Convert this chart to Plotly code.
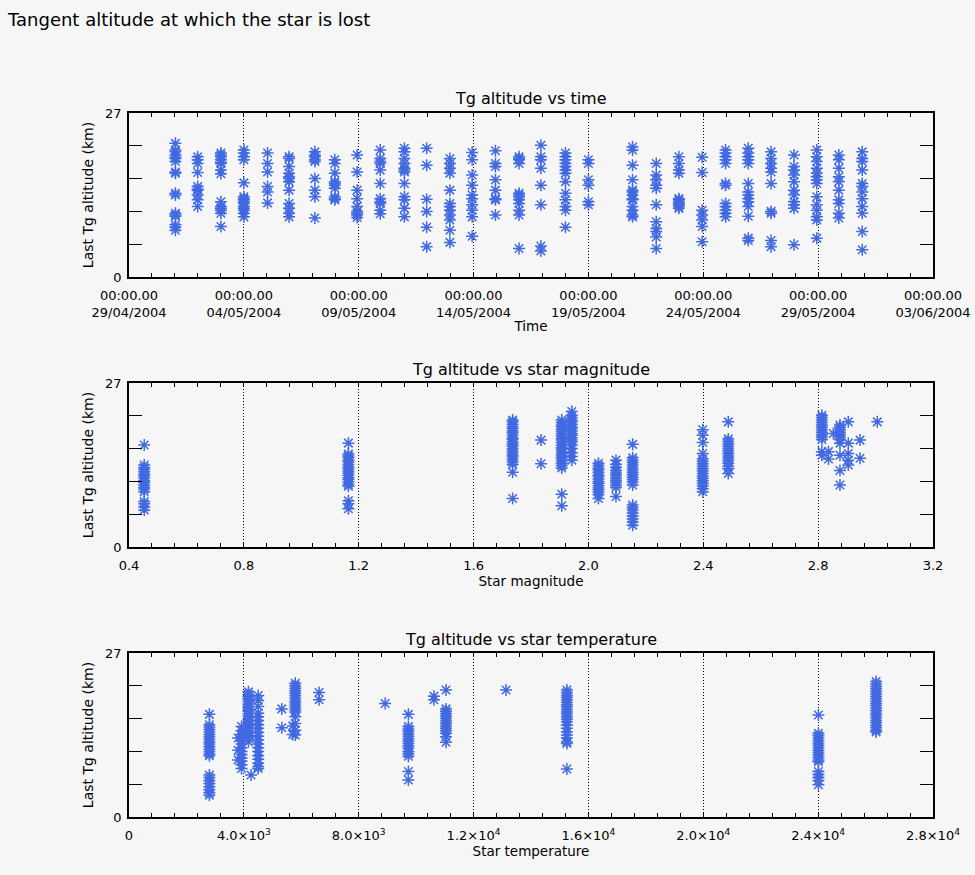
import plotly.graph_objects as go

BLUE = "#4169E1"
FONT = "DejaVu Sans"
BG = "#f6f6f6"

# ---------------- Tg altitude vs time ----------------
obs_times = [
    "2004-05-01 00:30", "2004-05-01 23:45", "2004-05-03 00:00", "2004-05-04 00:00",
    "2004-05-05 00:45", "2004-05-05 23:15", "2004-05-07 02:10", "2004-05-07 23:00",
    "2004-05-08 22:20", "2004-05-09 22:30", "2004-05-10 23:45", "2004-05-11 23:00",
    "2004-05-12 23:15", "2004-05-13 22:30", "2004-05-14 22:50", "2004-05-15 23:30",
    "2004-05-16 22:20", "2004-05-18 00:00", "2004-05-19 00:00", "2004-05-20 22:05",
    "2004-05-21 22:50", "2004-05-22 22:30", "2004-05-23 22:50", "2004-05-24 23:15",
    "2004-05-25 23:00", "2004-05-26 22:50", "2004-05-27 22:50", "2004-05-28 22:35",
    "2004-05-29 21:35", "2004-05-30 22:05",
]
obs_alts = [
    [22.0, 20.9, 20.6, 20.1, 19.7, 19.5, 19.0, 17.3, 17.1, 13.8, 13.5, 10.5, 10.2, 10.0, 8.6, 8.2, 7.7],
    [19.8, 19.3, 18.7, 17.2, 14.9, 14.5, 14.3, 13.5, 12.7, 11.6],
    [20.4, 20.1, 19.8, 19.3, 18.9, 18.7, 17.6, 17.0, 12.4, 11.6, 11.3, 11.0, 10.5, 8.3],
    [20.9, 20.4, 19.8, 19.3, 15.5, 13.2, 12.9, 12.7, 12.4, 12.1, 11.6, 11.3, 11.0, 10.5, 9.9],
    [20.4, 18.7, 17.3, 14.9, 14.0, 12.2],
    [19.8, 19.5, 18.2, 17.1, 16.5, 16.2, 15.7, 14.3, 12.1, 11.3, 10.5, 9.9],
    [20.6, 20.1, 19.8, 19.3, 19.0, 16.2, 14.3, 13.2, 9.7],
    [19.3, 18.7, 17.1, 15.7, 15.4, 15.1, 14.6, 13.2, 12.9, 12.7],
    [20.1, 17.3, 14.3, 12.9, 11.6, 10.8, 10.5, 10.2, 9.8],
    [20.9, 19.5, 19.0, 18.7, 17.6, 15.4, 12.9, 12.4, 12.1, 11.0, 10.4],
    [21.2, 20.6, 19.5, 18.7, 17.9, 17.6, 17.3, 15.4, 13.2, 12.7, 11.3, 9.9],
    [21.2, 18.4, 12.8, 10.8, 8.2, 5.0],
    [19.5, 18.7, 17.9, 17.1, 14.3, 12.1, 11.6, 11.0, 10.2, 9.4, 7.7, 5.7],
    [20.5, 19.3, 16.8, 15.1, 13.5, 12.9, 11.9, 11.0, 9.9, 6.7],
    [20.8, 18.7, 18.2, 16.0, 14.3, 12.9, 12.7, 10.2],
    [19.8, 19.5, 19.3, 18.7, 13.8, 13.5, 13.2, 12.7, 12.1, 11.0, 10.2, 4.7],
    [21.7, 19.8, 19.3, 17.9, 15.1, 11.9, 5.1, 4.3],
    [20.4, 19.8, 19.3, 18.7, 18.2, 17.6, 17.1, 15.7, 13.8, 12.7, 11.6, 11.0, 8.2],
    [19.3, 18.7, 16.0, 15.1, 12.4, 11.9],
    [21.4, 20.9, 18.4, 16.0, 14.3, 14.0, 13.5, 12.9, 12.7, 11.6, 11.0, 10.2, 9.9],
    [18.7, 16.8, 16.0, 15.1, 14.6, 11.9, 9.1, 8.0, 7.5, 6.6, 4.7],
    [19.8, 18.7, 17.6, 17.1, 12.9, 12.7, 12.4, 12.1, 11.9, 11.6, 11.3],
    [19.7, 17.2, 11.0, 10.2, 9.4, 8.3, 5.8],
    [20.9, 20.4, 19.8, 19.3, 18.7, 15.4, 15.1, 12.1, 11.6, 11.0, 10.5, 9.9],
    [21.2, 20.4, 19.8, 19.3, 18.7, 15.4, 14.0, 13.5, 12.9, 12.4, 11.6, 10.0, 6.4, 6.0],
    [20.6, 19.5, 18.7, 17.9, 17.3, 15.4, 10.8, 10.5, 6.0, 5.0],
    [20.1, 18.2, 17.6, 16.8, 15.7, 14.3, 13.5, 12.4, 11.9, 11.3, 5.3],
    [20.9, 19.8, 19.0, 17.9, 17.1, 16.5, 16.0, 15.4, 13.2, 11.9, 11.0, 9.9, 9.4, 6.4],
    [20.1, 19.3, 17.9, 16.5, 15.7, 14.3, 12.7, 12.1, 10.5, 9.7],
    [20.6, 19.5, 19.0, 17.6, 15.4, 14.9, 14.0, 12.9, 11.6, 10.5, 7.5, 4.5],
]
time_tickvals = ["2004-04-29", "2004-05-04", "2004-05-09", "2004-05-14",
                 "2004-05-19", "2004-05-24", "2004-05-29", "2004-06-03"]
time_ticktext = ["00:00.00<br>29/04/2004", "00:00.00<br>04/05/2004", "00:00.00<br>09/05/2004",
                 "00:00.00<br>14/05/2004", "00:00.00<br>19/05/2004", "00:00.00<br>24/05/2004",
                 "00:00.00<br>29/05/2004", "00:00.00<br>03/06/2004"]

# ---------------- Tg altitude vs star magnitude ----------------
star_mags = [0.453, 1.164, 1.736, 1.835, 1.907, 1.942, 2.035, 2.096, 2.154,
             2.398, 2.487, 2.813, 2.836, 2.853, 2.876, 2.905, 2.946, 3.006]
mag_alts = [
    [16.8, 13.5, 13.1, 12.8, 12.4, 12.0, 11.7, 11.3, 10.9, 10.6, 10.2, 9.8, 9.5, 9.1, 7.5, 7.1, 6.6, 6.1],
    [17.1, 15.3, 15.0, 14.7, 14.3, 14.0, 13.6, 13.2, 12.9, 12.5, 12.2, 11.8, 11.4, 11.1, 10.7, 10.3, 10.0, 7.6, 7.1, 6.3],
    [20.9, 20.6, 20.2, 19.8, 19.5, 19.1, 18.8, 18.4, 18.0, 17.7, 17.3, 16.9, 16.6, 16.2, 15.9, 15.5, 15.1, 14.8, 14.4, 14.0, 13.6, 12.3, 8.0],
    [17.6, 13.7],
    [20.9, 20.5, 20.1, 19.8, 19.4, 19.0, 18.7, 18.3, 17.9, 17.6, 17.2, 16.8, 16.4, 16.1, 15.7, 15.3, 15.0, 14.6, 14.2, 13.8, 13.4, 13.0, 8.7, 6.8],
    [22.3, 21.7, 21.3, 20.9, 20.6, 20.2, 19.8, 19.5, 19.1, 18.7, 18.4, 18.0, 17.6, 17.3, 16.8, 16.2, 15.5, 14.9, 14.3],
    [13.8, 13.4, 13.0, 12.7, 12.3, 11.9, 11.6, 11.2, 10.8, 10.5, 10.1, 9.7, 9.4, 9.0, 8.6, 8.0],
    [14.3, 13.6, 13.1, 12.6, 12.2, 11.8, 11.4, 11.0, 10.6, 10.2, 9.8, 8.3],
    [16.9, 14.7, 14.3, 13.9, 13.5, 13.1, 12.7, 12.3, 11.9, 11.5, 11.1, 10.7, 10.2, 6.9, 6.5, 6.1, 5.6, 5.1, 4.6, 4.1, 3.6],
    [19.3, 18.4, 17.2, 15.4, 14.5, 14.1, 13.7, 13.3, 12.9, 12.5, 12.1, 11.7, 11.3, 10.9, 10.5, 10.1, 9.6, 9.1],
    [20.6, 17.8, 17.4, 17.0, 16.6, 16.2, 15.8, 15.4, 15.0, 14.6, 14.2, 13.8, 13.3, 12.9, 12.1],
    [21.7, 21.3, 20.9, 20.5, 20.1, 19.7, 19.3, 18.9, 18.5, 18.1, 17.7, 15.7, 15.1],
    [15.7, 14.5],
    [18.7],
    [20.1, 19.7, 19.3, 18.9, 18.5, 18.1, 17.7, 17.1, 15.1, 12.6, 10.2],
    [20.6, 17.1, 15.4, 14.3, 13.5],
    [17.6, 14.6],
    [20.6],
]

# ---------------- Tg altitude vs star temperature ----------------
star_temps = [2800, 3800, 3920, 4160, 4250, 4500, 5320, 5700, 5790, 6620,
              8920, 9730, 10620, 11040, 13130, 15250, 24010, 26020]
temp_alts = [
    [16.9, 15.2, 14.8, 14.4, 14.0, 13.6, 13.2, 12.8, 12.4, 12.0, 11.6, 11.2, 10.8, 10.4, 10.1, 6.9, 6.5, 6.0, 5.5, 5.0, 4.5, 4.0, 3.6],
    [13.0, 11.0, 9.4],
    [14.9, 14.2, 13.6, 13.1, 12.5, 12.0, 11.4, 10.8, 10.3, 9.7, 9.2, 8.6, 8.0],
    [20.6, 20.2, 19.8, 19.4, 19.0, 18.6, 18.2, 17.8, 17.4, 17.0, 16.6, 16.2, 15.8, 15.4, 15.0, 14.6, 14.2, 13.8, 13.4, 13.0, 12.4],
    [6.9],
    [20.0, 19.2, 18.2, 17.1, 16.5, 15.9, 15.2, 14.6, 13.9, 13.3, 12.7, 12.0, 11.4, 10.8, 10.1, 9.5, 8.9, 8.3, 8.0],
    [17.8, 14.7],
    [15.0, 13.6],
    [22.0, 21.6, 21.2, 20.8, 20.4, 20.0, 19.6, 19.2, 18.8, 18.4, 18.0, 17.6, 17.3, 16.5, 15.4, 14.3, 13.5],
    [20.5, 19.3],
    [18.7],
    [16.9, 14.9, 14.5, 14.1, 13.7, 13.3, 12.9, 12.5, 12.1, 11.7, 11.3, 10.8, 10.4, 10.0, 7.5, 6.1],
    [19.9, 19.3],
    [20.9, 17.8, 17.4, 17.0, 16.6, 16.2, 15.8, 15.4, 15.0, 14.6, 14.2, 13.8, 13.2, 12.3],
    [20.9],
    [20.9, 20.5, 20.1, 19.7, 19.3, 18.9, 18.5, 18.1, 17.7, 17.3, 16.9, 16.5, 16.1, 15.7, 15.1, 14.6, 14.0, 13.5, 13.0, 12.4, 12.1, 7.9],
    [16.8, 13.8, 13.4, 13.0, 12.6, 12.2, 11.8, 11.4, 11.0, 10.6, 10.2, 9.8, 9.4, 9.1, 7.5, 7.0, 6.5, 6.0, 5.3],
    [22.3, 21.9, 21.5, 21.1, 20.7, 20.3, 19.9, 19.5, 19.1, 18.7, 18.3, 17.9, 17.5, 17.1, 16.7, 16.3, 15.9, 15.5, 15.1, 14.7, 14.3, 14.0],
]
temp_tickvals = [0, 4000, 8000, 12000, 16000, 20000, 24000, 28000]
temp_ticktext = ["0", "4.0×10<sup>3</sup>", "8.0×10<sup>3</sup>", "1.2×10<sup>4</sup>",
                 "1.6×10<sup>4</sup>", "2.0×10<sup>4</sup>", "2.4×10<sup>4</sup>", "2.8×10<sup>4</sup>"]

# altitude axis: labelled ends, unlabelled interior ticks every 5.4 km
alt_tickvals = [0, 27]
alt_ticktext = ["0", "27"]
alt_step = 5.4


def flatten(xs, groups):
    px, py = [], []
    for x, g in zip(xs, groups):
        px.extend([x] * len(g))
        py.extend(g)
    return px, py


W, H = 975, 875
X0, X1 = 129, 933
panels = [(113, 277), (383, 547), (653, 817)]  # (top, bottom) in pixels


def ydom(top, bottom):
    return [1 - bottom / H, 1 - top / H]


marker = dict(symbol="asterisk-open", size=10, color=BLUE, line=dict(color=BLUE, width=1.5))

fig = go.Figure()
for i, (xs, groups) in enumerate([(obs_times, obs_alts), (star_mags, mag_alts), (star_temps, temp_alts)]):
    px, py = flatten(xs, groups)
    suffix = "" if i == 0 else str(i + 1)
    fig.add_trace(go.Scatter(x=px, y=py, mode="markers", marker=marker,
                             xaxis="x" + suffix, yaxis="y" + suffix, showlegend=False))

common_x = dict(
    automargin=False,
    showline=True, linecolor="black", linewidth=1.5, mirror="allticks",
    ticks="inside", ticklen=4, tickcolor="black", tickwidth=1,
    showgrid=True, gridcolor="black", gridwidth=1, griddash="1px,2px",
    zeroline=False, tickfont=dict(family=FONT, size=13, color="black"),
    ticklabelstandoff=6,
)
ytitle = dict(text="Last Tg altitude (km)", font=dict(family=FONT, size=14, color="black"),
              standoff=8)
common_y = dict(
    automargin=False,
    range=[0, 27], tickmode="array", tickvals=alt_tickvals, ticktext=alt_ticktext,
    showline=True, linecolor="black", linewidth=1.5, mirror="allticks",
    ticks="inside", ticklen=13, tickcolor="black", tickwidth=1.2,
    minor=dict(tick0=0, dtick=alt_step, ticks="inside", ticklen=13,
               tickcolor="black", tickwidth=1.2, showgrid=False),
    showgrid=False, zeroline=False, tickfont=dict(family=FONT, size=13, color="black"),
    ticklabelstandoff=3, title=ytitle,
)
xdom = [X0 / W, X1 / W]
xtitle_font = dict(family=FONT, size=13.5, color="black")

layout = dict(
    width=W, height=H, margin=dict(l=0, r=0, t=0, b=0, autoexpand=False),
    paper_bgcolor=BG, plot_bgcolor=BG, showlegend=False,
    font=dict(family=FONT, color="black"),
    title=dict(text="Tangent altitude at which the star is lost", x=8 / W, y=1 - 20 / H,
               xref="container", yref="container", xanchor="left", yanchor="middle",
               font=dict(family=FONT, size=18, color="black")),
    xaxis=dict(common_x, domain=xdom, anchor="y", type="date",
               range=["2004-04-29", "2004-06-03"], tickmode="array",
               tickvals=time_tickvals, ticktext=time_ticktext,
               minor=dict(dtick=86400000, tick0="2004-04-29", ticks="inside",
                          ticklen=4, tickcolor="black", showgrid=False),
               title=dict(text="Time", font=xtitle_font, standoff=2)),
    yaxis=dict(common_y, domain=ydom(*panels[0]), anchor="x"),
    xaxis2=dict(common_x, domain=xdom, anchor="y2", range=[0.4, 3.2],
                tickmode="linear", tick0=0.4, dtick=0.4, tickformat=".1f",
                minor=dict(dtick=0.08, tick0=0.4, ticks="inside", ticklen=4,
                           tickcolor="black", showgrid=False),
                title=dict(text="Star magnitude", font=xtitle_font, standoff=4)),
    yaxis2=dict(common_y, domain=ydom(*panels[1]), anchor="x2"),
    xaxis3=dict(common_x, domain=xdom, anchor="y3", range=[0, 28000],
                tickmode="array", tickvals=temp_tickvals, ticktext=temp_ticktext,
                minor=dict(dtick=800, tick0=0, ticks="inside", ticklen=4,
                           tickcolor="black", showgrid=False),
                title=dict(text="Star temperature", font=xtitle_font, standoff=4)),
    yaxis3=dict(common_y, domain=ydom(*panels[2]), anchor="x3"),
)
fig.update_layout(**layout)

# panel headings
titles = ["Tg altitude vs time", "Tg altitude vs star magnitude", "Tg altitude vs star temperature"]
cx = (X0 + X1) / 2 / W
annotations = []
for (top, bottom), t in zip(panels, titles):
    annotations.append(dict(text=t, x=cx, y=1 - (top - 14) / H, xanchor="center",
                            yanchor="middle", xref="paper", yref="paper", showarrow=False,
                            font=dict(family=FONT, size=16, color="black")))
fig.update_layout(annotations=annotations)

fig.write_html("out.html")
